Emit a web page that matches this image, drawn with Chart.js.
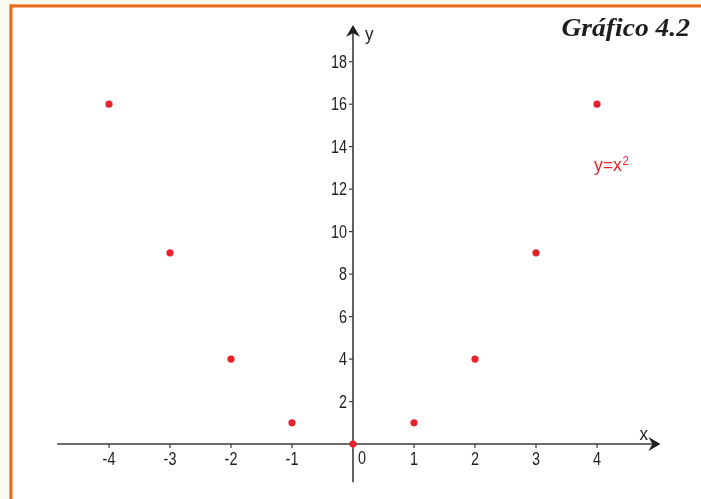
<!DOCTYPE html>
<html>
<head>
<meta charset="utf-8">
<script src="https://cdn.jsdelivr.net/npm/chart.js@4.4.1/dist/chart.umd.min.js"></script>
<style>
  html, body { margin: 0; padding: 0; background: #fbfbef; }
  #wrap { width: 701px; height: 499px; position: relative; }
</style>
</head>
<body>
<div id="wrap"><canvas id="c" width="701" height="499"></canvas></div>
<script>
// ---- data ----
const xValues = [-4, -3, -2, -1, 0, 1, 2, 3, 4];
const yValues = [16, 9, 4, 1, 0, 1, 4, 9, 16];
const xTicks = [-4, -3, -2, -1, 1, 2, 3, 4];
const yTicks = [2, 4, 6, 8, 10, 12, 14, 16, 18];
const titleText = 'Gráfico 4.2';
const curveLabel = 'y=x';
const xAxisName = 'x';
const yAxisName = 'y';

const TICK_FONT = '18px "Liberation Sans", Arial, sans-serif';
const NARROW = 0.8;
const AXIS_COLOR = '#3a3a3a';
const RED = '#e8222b';

// draw text horizontally condensed
function narrowText(ctx, text, x, y, align, k) {
  const f = k === undefined ? NARROW : k;
  ctx.save();
  ctx.translate(x, y);
  ctx.scale(f, 1);
  ctx.textAlign = align;
  ctx.fillText(text, 0, 0);
  const w = ctx.measureText(text).width * f;
  ctx.restore();
  return w;
}

const drawPlugin = {
  id: 'drawPlugin',
  beforeDraw(chart) {
    const ctx = chart.ctx;
    ctx.save();
    ctx.fillStyle = '#fbfbef';
    ctx.fillRect(0, 0, chart.width, chart.height);
    ctx.fillStyle = '#ffffff';
    ctx.fillRect(9, 4, chart.width - 9, chart.height - 4);
    ctx.fillStyle = '#f5a06a';
    ctx.fillRect(9, 4, chart.width - 9, 1);
    ctx.fillRect(9, 4, 1, chart.height - 4);
    ctx.fillStyle = '#f06a1e';
    ctx.fillRect(10, 5, chart.width - 10, 2.5);
    ctx.fillRect(10, 5, 2.5, chart.height - 5);
    ctx.restore();
  },
  beforeDatasetsDraw(chart) {
    const ctx = chart.ctx;
    const xs = chart.scales.x, ys = chart.scales.y;
    const x0 = xs.getPixelForValue(0), y0 = ys.getPixelForValue(0);
    ctx.save();
    ctx.strokeStyle = AXIS_COLOR;
    ctx.fillStyle = AXIS_COLOR;
    ctx.lineWidth = 1.6;
    // x axis
    const xl = xs.getPixelForValue(-4.85), xr = xs.getPixelForValue(5.04);
    ctx.beginPath(); ctx.moveTo(xl, y0); ctx.lineTo(xr - 8, y0); ctx.stroke();
    ctx.fillStyle = '#1e1e1e';
    ctx.beginPath();
    ctx.moveTo(xr, y0); ctx.lineTo(xr - 12, y0 - 7); ctx.lineTo(xr - 8, y0);
    ctx.lineTo(xr - 12, y0 + 7); ctx.closePath(); ctx.fill();
    // y axis
    const yb = ys.getPixelForValue(-1.8), yt = ys.getPixelForValue(19.73);
    ctx.beginPath(); ctx.moveTo(x0, yb); ctx.lineTo(x0, yt + 8); ctx.stroke();
    ctx.beginPath();
    ctx.moveTo(x0, yt); ctx.lineTo(x0 - 7, yt + 12); ctx.lineTo(x0, yt + 8);
    ctx.lineTo(x0 + 7, yt + 12); ctx.closePath(); ctx.fill();
    // ticks
    ctx.lineWidth = 1.2;
    xTicks.forEach(v => {
      const px = xs.getPixelForValue(v);
      ctx.beginPath(); ctx.moveTo(px, y0); ctx.lineTo(px, y0 + 4); ctx.stroke();
    });
    yTicks.forEach(v => {
      const py = ys.getPixelForValue(v);
      ctx.beginPath(); ctx.moveTo(x0, py); ctx.lineTo(x0 - 4, py); ctx.stroke();
    });
    // tick labels
    ctx.fillStyle = '#222';
    ctx.font = TICK_FONT;
    ctx.textBaseline = 'middle';
    xTicks.forEach(v => {
      narrowText(ctx, v < 0 ? '-' + Math.abs(v) : String(v), xs.getPixelForValue(v), y0 + 16, 'center');
    });
    narrowText(ctx, '0', x0 + 9, y0 + 15, 'center');
    yTicks.forEach(v => {
      narrowText(ctx, String(v), x0 - 6, ys.getPixelForValue(v) + 1, 'right');
    });
    // axis names
    narrowText(ctx, yAxisName, x0 + 12, yt + 10, 'left', 0.95);
    narrowText(ctx, xAxisName, xr - 21, y0 - 9, 'left', 0.95);
    ctx.restore();
  },
  afterDraw(chart) {
    const ctx = chart.ctx;
    ctx.save();
    // title
    ctx.fillStyle = '#1e1e1e';
    ctx.font = 'italic bold 26px "Liberation Serif", "DejaVu Serif", serif';
    ctx.textBaseline = 'alphabetic';
    ctx.save();
    ctx.translate(690, 36);
    ctx.scale(1.06, 1);
    ctx.textAlign = 'right';
    ctx.fillText(titleText, 0, 0);
    ctx.restore();
    // curve label
    const xs = chart.scales.x, ys = chart.scales.y;
    ctx.fillStyle = RED;
    ctx.font = TICK_FONT;
    ctx.textBaseline = 'alphabetic';
    const lx = xs.getPixelForValue(3.95), ly = ys.getPixelForValue(12.85);
    const w = narrowText(ctx, curveLabel, lx, ly, 'left', 0.98);
    ctx.font = '12px "Liberation Sans", Arial, sans-serif';
    narrowText(ctx, '2', lx + w + 0.5, ly - 6, 'left', 0.95);
    ctx.restore();
  }
};

new Chart(document.getElementById('c'), {
  type: 'scatter',
  data: {
    datasets: [{
      data: xValues.map((x, i) => ({ x: x, y: yValues[i] })),
      backgroundColor: RED,
      borderColor: RED,
      pointRadius: 3.6,
      pointHoverRadius: 3.6,
      borderWidth: 0,
      clip: false
    }]
  },
  options: {
    responsive: false,
    animation: false,
    events: [],
    layout: { padding: { left: 48, right: 30.8, top: 19.2, bottom: 14.6 } },
    plugins: { legend: { display: false }, tooltip: { enabled: false } },
    scales: {
      x: { type: 'linear', min: -5, max: 5.2, display: false },
      y: { type: 'linear', min: -1.9, max: 20, display: false }
    }
  },
  plugins: [drawPlugin]
});
</script>
</body>
</html>
